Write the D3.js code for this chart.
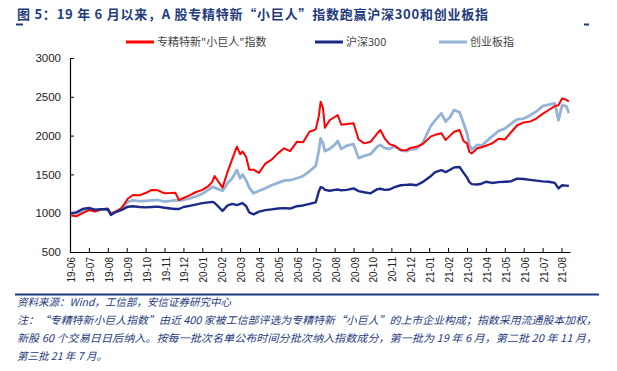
<!DOCTYPE html>
<html>
<head>
<meta charset="utf-8">
<script src="https://cdn.jsdelivr.net/npm/d3@7"></script>
<style>
  body { margin: 0; background: #fff; }
  svg text { font-family: "Liberation Sans", Arial, "Noto Sans CJK SC", sans-serif; }
  .cn { font-family: "Noto Sans CJK SC", sans-serif; }
</style>
</head>
<body>
<div id="chart"></div>
<script>
/// Data (index, start = 1000) ///
var dates = [
  "2019-06-03","2019-06-11","2019-06-21",
  "2019-07-01","2019-07-11","2019-07-21",
  "2019-08-01","2019-08-06","2019-08-14","2019-08-23",
  "2019-09-03","2019-09-11","2019-09-21",
  "2019-10-01","2019-10-11","2019-10-21",
  "2019-11-01","2019-11-11","2019-11-18","2019-11-24",
  "2019-12-01","2019-12-11","2019-12-21",
  "2020-01-01","2020-01-11","2020-01-17","2020-01-21",
  "2020-02-03","2020-02-11","2020-02-18","2020-02-25",
  "2020-03-01","2020-03-05","2020-03-11","2020-03-16","2020-03-23",
  "2020-04-01","2020-04-11","2020-04-21",
  "2020-05-01","2020-05-11","2020-05-21",
  "2020-06-01","2020-06-11","2020-06-21",
  "2020-07-01","2020-07-06","2020-07-09","2020-07-13","2020-07-16","2020-07-24",
  "2020-08-01","2020-08-06","2020-08-12","2020-08-21",
  "2020-09-01","2020-09-09","2020-09-18","2020-09-28",
  "2020-10-09","2020-10-14","2020-10-21","2020-10-29",
  "2020-11-06","2020-11-16","2020-11-24",
  "2020-12-01","2020-12-11","2020-12-21",
  "2021-01-04","2021-01-11","2021-01-21","2021-01-28",
  "2021-02-04","2021-02-10","2021-02-18","2021-02-24",
  "2021-03-01","2021-03-05","2021-03-09","2021-03-18","2021-03-25",
  "2021-04-01","2021-04-11","2021-04-21",
  "2021-05-01","2021-05-11","2021-05-21",
  "2021-06-01","2021-06-11","2021-06-21",
  "2021-07-01","2021-07-11","2021-07-21","2021-07-27",
  "2021-08-02","2021-08-09","2021-08-13"
];

var giantIndex = [
  970, 960, 1000,
  1041, 1020, 1050,
  1060, 990, 1020, 1060,
  1190, 1234, 1230,
  1260, 1300, 1295,
  1256, 1260, 1265, 1170,
  1196, 1230, 1270,
  1300, 1350, 1400, 1479,
  1330, 1540, 1700, 1857,
  1760, 1795, 1720, 1560, 1560,
  1520, 1640, 1690,
  1771, 1836, 1800,
  1920, 1915, 2050,
  2080, 2250, 2437, 2350, 2100, 2200,
  2240, 2265, 2140, 2150,
  2160, 1950, 1900, 1920,
  2030, 2072, 1965, 1890,
  1870, 1815, 1810,
  1840, 1855, 1890,
  1990, 2010, 2030, 1945,
  2000, 2050, 2072, 1930,
  1900, 1790, 1771, 1836, 1850,
  1870, 1900, 1960,
  1950, 2040, 2130,
  2170, 2180, 2220,
  2280, 2330, 2380, 2390,
  2480, 2460, 2440
];

var hs300 = [
  1000, 1010, 1055,
  1067, 1045, 1050,
  1050, 977, 1015, 1040,
  1084, 1090, 1080,
  1075, 1080, 1085,
  1070, 1060, 1055, 1054,
  1080, 1095, 1110,
  1130, 1140, 1145, 1135,
  1030, 1100, 1120, 1105,
  1120, 1130, 1090, 1010, 985,
  1020, 1040, 1050,
  1060, 1065, 1060,
  1090, 1100, 1120,
  1140, 1280, 1335, 1325, 1300, 1290,
  1300, 1305, 1295, 1300,
  1320, 1285, 1270, 1256,
  1310, 1315, 1300, 1305,
  1335, 1360, 1365,
  1370, 1360, 1400,
  1480, 1530, 1555, 1530,
  1560, 1590, 1595, 1520,
  1460, 1400, 1375, 1370, 1380,
  1405, 1390, 1400,
  1405, 1410, 1445,
  1440, 1430, 1420,
  1410, 1405, 1390, 1320,
  1360, 1355, 1350
];

var chinext = [
  1000, 995, 1032,
  1055, 1035, 1045,
  1050, 998, 1020, 1060,
  1150, 1165, 1155,
  1160, 1165, 1170,
  1150, 1160, 1165, 1165,
  1170, 1190, 1215,
  1250, 1300, 1340, 1330,
  1290, 1390, 1450, 1557,
  1450, 1500, 1420, 1330, 1256,
  1290, 1320, 1360,
  1390, 1420, 1425,
  1450, 1480, 1540,
  1610, 1800, 1965, 1900, 1800, 1830,
  1880, 1930, 1830, 1870,
  1890, 1710, 1740, 1760,
  1860, 1880, 1840, 1830,
  1860, 1810, 1800,
  1820, 1830, 1900,
  2130, 2200, 2287, 2180,
  2240, 2330, 2300, 2160,
  2030, 1880, 1820, 1880, 1870,
  1920, 1990, 2060,
  2090, 2150, 2210,
  2220, 2260, 2310,
  2380, 2400, 2416, 2200,
  2390, 2380, 2290
];

var monthLabels = ["19-06","19-07","19-08","19-09","19-10","19-11","19-12",
  "20-01","20-02","20-03","20-04","20-05","20-06","20-07","20-08","20-09","20-10","20-11","20-12",
  "21-01","21-02","21-03","21-04","21-05","21-06","21-07","21-08"];

var yTicks = [500, 1000, 1500, 2000, 2500, 3000];

var seriesNames = ["专精特新\"小巨人\"指数", "沪深300", "创业板指"];
var seriesColors = ["#ff0000", "#1c2a87", "#95b3d7"];

/// SVG ///
var svgWidth = 617, svgHeight = 371;
var svg = d3.select("#chart").append("svg")
    .attr("width", svgWidth)
    .attr("height", svgHeight);

// title + rule peeking out behind the chart
svg.append("line").attr("x1", 16).attr("x2", 589).attr("y1", 24.5).attr("y2", 24.5)
    .attr("stroke", "#1f3b7d").attr("stroke-width", 2);
svg.append("rect").attr("x", 23).attr("y", 22).attr("width", 561).attr("height", 5).attr("fill", "#fff");

svg.append("text")
    .attr("class", "cn")
    .attr("x", 17).attr("y", 19)
    .attr("textLength", 471)
    .attr("lengthAdjust", "spacing")
    .attr("font-size", 13).attr("font-weight", "bold")
    .attr("fill", "#1f3b7d")
    .text("图 5：19 年 6 月以来，A 股专精特新“小巨人”指数跑赢沪深300和创业板指");

/// Chart area ///
var margin = { top: 58, left: 70 };
var plotW = 500, plotH = 194;

var g = svg.append("g").attr("transform", `translate(${margin.left}, ${margin.top})`);

// month position: months since 2019-06, evenly spaced like the category axis
function monthPos(s) {
  var p = s.split("-").map(Number);
  var dim = new Date(p[0], p[1], 0).getDate();
  return (p[0] - 2019) * 12 + (p[1] - 6) + (p[2] - 1) / dim;
}

var x = d3.scaleLinear().domain([0, 26.45]).range([0, plotW]);
var y = d3.scaleLinear().domain([500, 3000]).range([plotH, 0]);

var xAxis = d3.axisBottom(x)
    .tickValues(d3.range(monthLabels.length))
    .tickFormat(i => monthLabels[i])
    .tickSize(-4).tickSizeOuter(0);

var yAxis = d3.axisLeft(y)
    .tickValues(yTicks)
    .tickFormat(d3.format("d"))
    .tickSize(-4).tickSizeOuter(0)
    .tickPadding(9);

var gx = g.append("g").attr("transform", `translate(0, ${plotH})`).call(xAxis);
gx.select(".domain").attr("stroke", "#000").attr("stroke-width", 1.2);
gx.selectAll(".tick line").attr("stroke", "#000");
gx.selectAll(".tick text")
    .attr("transform", "rotate(-90)")
    .attr("text-anchor", "end")
    .attr("x", -5).attr("y", 1).attr("dy", "0.35em")
    .attr("font-size", 10).attr("fill", "#222");

var gy = g.append("g").call(yAxis);
gy.select(".domain").attr("stroke", "#000").attr("stroke-width", 1.2);
gy.selectAll(".tick line").attr("stroke", "#000");
gy.selectAll(".tick text").attr("font-size", 11.5).attr("fill", "#222");

/// Lines ///
var drawOrder = [2, 0, 1];
var widths = [2, 2.4, 2.8];

var line = d3.line()
    .x((d, i) => x(monthPos(dates[i])))
    .y(d => y(d));

drawOrder.forEach(function (k) {
  var vals = k === 0 ? giantIndex : (k === 1 ? hs300 : chinext);
  g.append("path")
      .datum(vals)
      .attr("fill", "none")
      .attr("stroke", seriesColors[k])
      .attr("stroke-width", widths[k])
      .attr("stroke-linejoin", "round")
      .attr("d", line);
});

/// Legend ///
var legendPos = [[126, 157], [315, 346], [439, 470]];
seriesNames.forEach(function (name, k) {
  svg.append("line")
      .attr("x1", legendPos[k][0]).attr("x2", legendPos[k][0] + 28)
      .attr("y1", 42).attr("y2", 42)
      .attr("stroke", seriesColors[k]).attr("stroke-width", 3);
  svg.append("text")
      .attr("class", "cn")
      .attr("x", legendPos[k][1]).attr("y", 46)
      .attr("font-size", 11).attr("fill", "#444")
      .text(name);
});

/// Footer ///
svg.append("line").attr("x1", 15).attr("x2", 599).attr("y1", 294.5).attr("y2", 294.5)
    .attr("stroke", "#1a3a80").attr("stroke-width", 2);

var notes = [
  ["资料来源：Wind，工信部，安信证券研究中心", null],
  ["注：“专精特新小巨人指数”由近 400 家被工信部评选为专精特新“小巨人”的上市企业构成；指数采用流通股本加权，", 580],
  ["新股 60 个交易日日后纳入。按每一批次名单公布时间分批次纳入指数成分，第一批为 19 年 6 月，第二批 20 年 11 月，", 580],
  ["第三批 21 年 7 月。", null]
];
notes.forEach(function (n, i) {
  var t = svg.append("text")
      .attr("class", "cn")
      .attr("x", 17).attr("y", 306 + i * 18)
      .attr("font-size", 10.5)
      .attr("font-style", "italic")
      .attr("fill", "#1f3b7d")
      .text(n[0]);
  if (n[1]) t.attr("textLength", n[1]).attr("lengthAdjust", "spacingAndGlyphs");
});
</script>
</body>
</html>
